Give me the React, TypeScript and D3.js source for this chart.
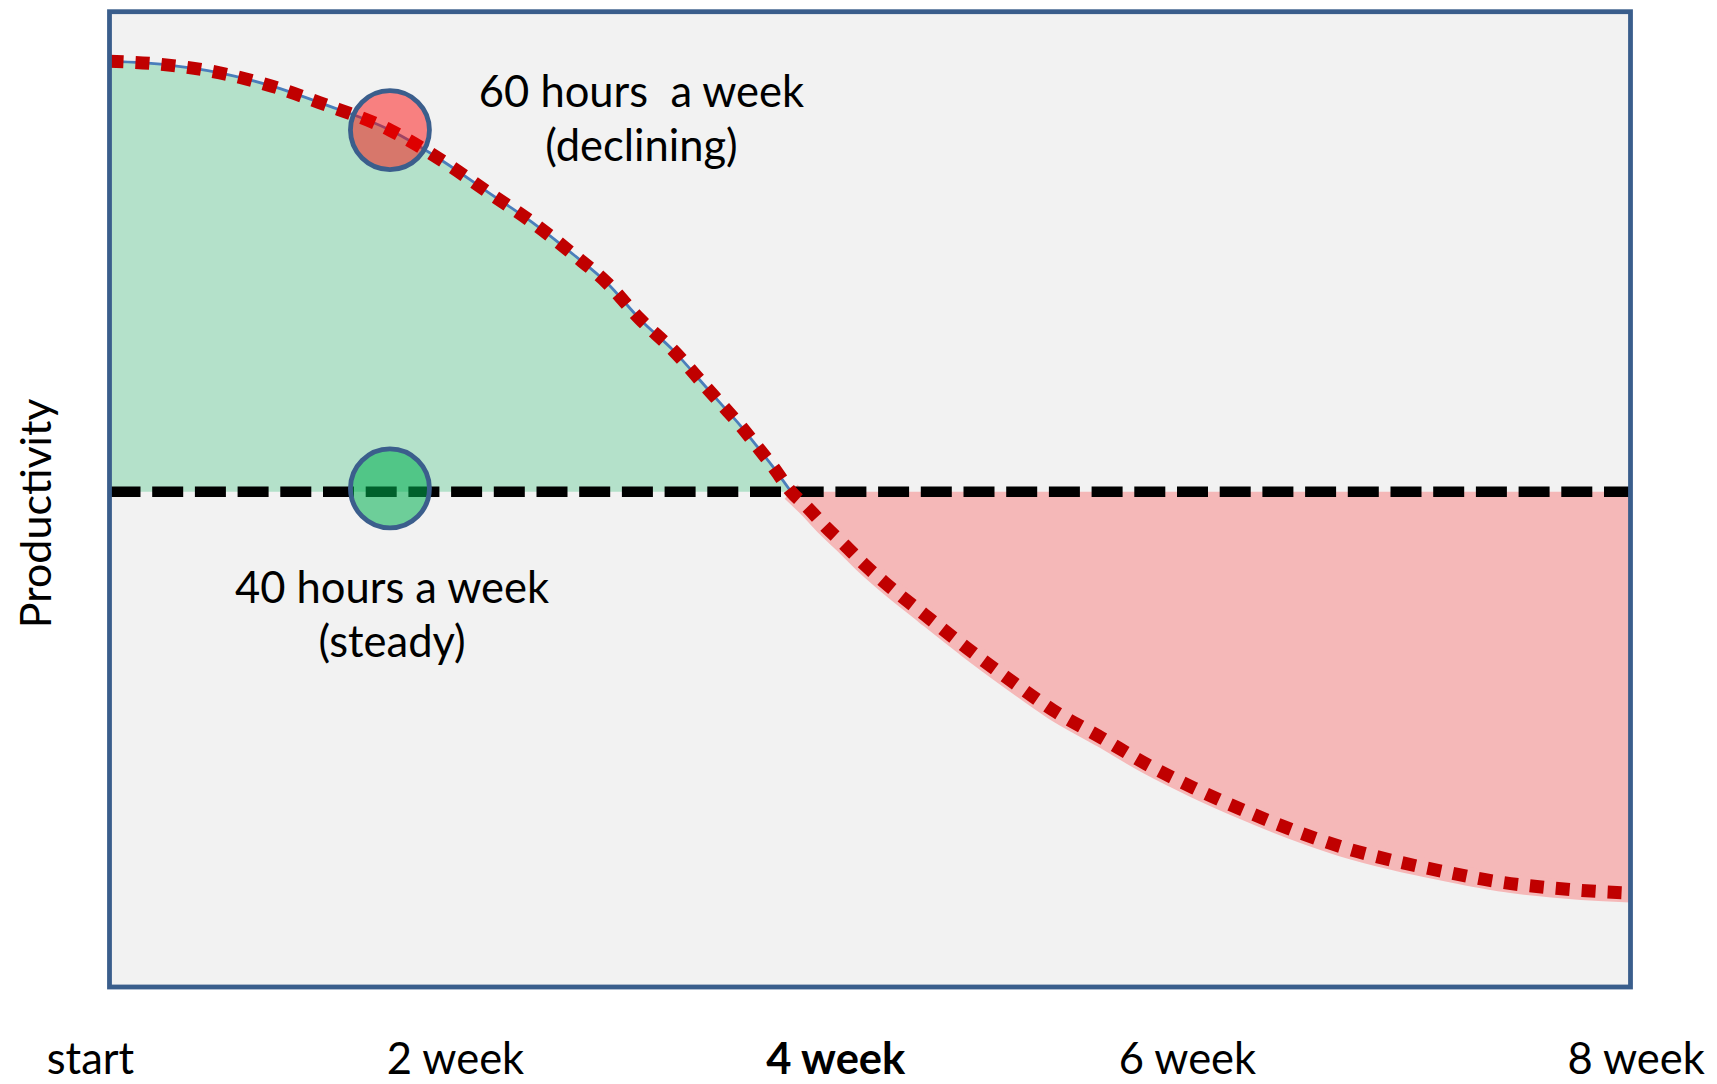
import React from "react";
import * as d3 from "d3";

// ---- data ----
// weeks elapsed, and productivity index of the 60-hour week (40-hour steady level = 100)
const weeks = [0, 0.31, 0.58, 0.855, 1.123, 1.475, 1.76, 1.99, 2.22, 2.443, 2.617, 2.79, 2.964, 3.142, 3.221, 3.316, 3.405, 3.49, 3.585, 3.668, 3.768, 3.868, 3.968, 4.073, 4.289, 4.51, 4.736, 4.962, 5.22, 5.452, 5.704, 5.962, 6.22, 6.483, 6.756, 7.03, 7.309, 7.587, 7.86, 8.0];
const productivity60 = [200, 199.1, 197.3, 194.2, 190.1, 184.0, 176.6, 169.6, 162.7, 155, 148.5, 140.1, 132.9, 124.1, 120.2, 115.5, 110.6, 105.8, 100, 96.5, 91.8, 87.6, 83.2, 79.1, 71.4, 63.7, 56.3, 49.3, 42.8, 36.8, 31.2, 26.1, 21.5, 17.5, 14.3, 11.7, 9.4, 8.0, 7.1, 6.8];
const steadyLevel = 100;

const tickLabels = ["start", "2 week", "4 week", "6 week", "8 week"];
const tickWeeks = [-0.1, 1.82, 3.82, 5.67, 8.03];
const boldTick = "4 week";

const markerWeek = 1.475;
const markerValues = [184.0, 100.8];
const markerColors = ["#ff0000", "#00b050"];
const markerOpacity = [0.47, 0.55];

const annotLines60 = ["60 hours  a week", "(declining)"];
const annotLines40 = ["40 hours a week", "(steady)"];
const annotWeeks = [2.798, 1.486];
const annotValues = [189.4, 74.2];

const yLabel = "Productivity";

// ---- layout ----
const W = 1717;
const H = 1084;
const left = 109.5;
const right = 1630.5;
const top = 11.7;
const bottom = 987;
const FONT = "Lato, 'Open Sans', sans-serif";

export default function App() {
  const x = d3.scaleLinear().domain([0, 8]).range([left, right]);
  const y = d3.scaleLinear().domain([-15, 211.5]).range([bottom, top]);

  const pts: [number, number][] = weeks.map((w, i) => [w, productivity60[i]]);
  const crossIdx = productivity60.findIndex((v) => v <= steadyLevel);
  const greenPts = pts.slice(0, crossIdx + 1);
  const pinkPts = pts.slice(crossIdx);

  const curve = d3.curveMonotoneX;
  const area = d3
    .area<[number, number]>()
    .x((d) => x(d[0]))
    .y0(y(steadyLevel))
    .y1((d) => y(d[1]))
    .curve(curve);
  const line = d3
    .line<[number, number]>()
    .x((d) => x(d[0]))
    .y((d) => y(d[1]))
    .curve(curve);

  const steadyY = y(steadyLevel);

  return (
    <svg
      width={W}
      height={H}
      style={{ position: "absolute", left: 0, top: 0, display: "block", background: "#ffffff" }}
    >
      {/* plot background */}
      <rect x={left} y={top} width={right - left} height={bottom - top} fill="#f2f2f2" />

      {/* gain (green) and loss (pink) areas */}
      <path d={area(greenPts) || ""} fill="#b4e1ca" />
      <path d={area(pinkPts) || ""} fill="#f5b8b8" />
      <path d={line(pinkPts) || ""} fill="none" stroke="#f5b8b8" strokeWidth={19} />
      <line x1={left} x2={left} y1={y(productivity60[0])} y2={steadyY} stroke="#4a7ebb" strokeWidth={3} />
      <path d={line(greenPts) || ""} fill="none" stroke="#4a7ebb" strokeWidth={2.8} />

      {/* 40h steady dashed line */}
      <line
        x1={left}
        x2={right}
        y1={steadyY}
        y2={steadyY}
        stroke="#000000"
        strokeWidth={10.5}
        strokeDasharray="31 11.7"
      />

      {/* 60h declining dotted line */}
      <path
        d={line(pts) || ""}
        fill="none"
        stroke="#c00000"
        strokeWidth={13}
        strokeDasharray="14 12"
      />

      {/* markers */}
      {markerValues.map((v, i) => (
        <circle
          key={i}
          cx={x(markerWeek)}
          cy={y(v)}
          r={39.5}
          fill={markerColors[i]}
          fillOpacity={markerOpacity[i]}
          stroke="#3b5e8c"
          strokeWidth={4.8}
        />
      ))}

      {/* frame */}
      <rect
        x={left}
        y={top}
        width={right - left}
        height={bottom - top}
        fill="none"
        stroke="#3a5e8c"
        strokeWidth={4.8}
      />

      {/* annotations */}
      {[annotLines60, annotLines40].map((lines, k) => (
        <text
          key={k}
          x={x(annotWeeks[k])}
          y={y(annotValues[k])}
          textAnchor="middle"
          fontFamily={FONT}
          fontSize={43.5}
          fill="#000"
          style={{ whiteSpace: "pre" }}
        >
          {lines.map((t, j) => (
            <tspan key={j} x={x(annotWeeks[k])} dy={j === 0 ? 0 : 54}>
              {t}
            </tspan>
          ))}
        </text>
      ))}

      {/* y label */}
      <text
        transform={`translate(51,${(top + bottom) / 2 + 14}) rotate(-90)`}
        textAnchor="middle"
        fontFamily={FONT}
        fontSize={43}
        fill="#000"
      >
        {yLabel}
      </text>

      {/* x tick labels */}
      {tickLabels.map((t, i) => (
        <text
          key={t}
          x={x(tickWeeks[i])}
          y={1074}
          textAnchor="middle"
          fontFamily={FONT}
          fontSize={43.5}
          fontWeight={t === boldTick ? 700 : 400}
          fill="#000"
        >
          {t}
        </text>
      ))}
    </svg>
  );
}
